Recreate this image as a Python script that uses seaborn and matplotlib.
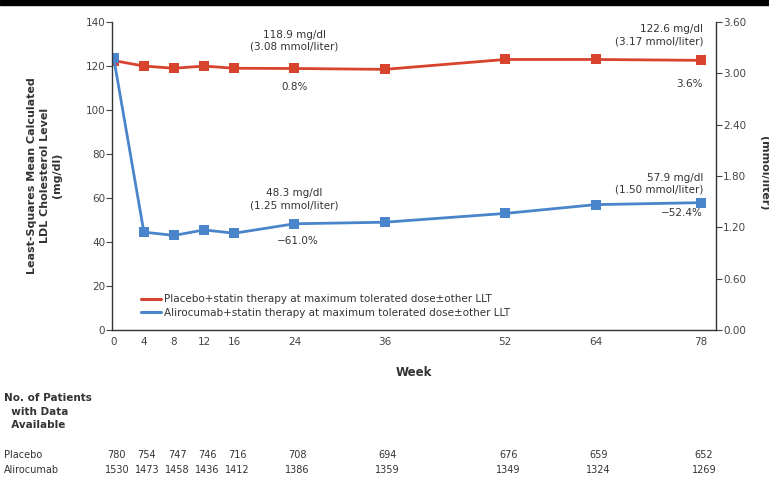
import numpy as np
import pandas as pd
import matplotlib
matplotlib.use("Agg")
import matplotlib.pyplot as plt
import seaborn as sns
from matplotlib.lines import Line2D
from matplotlib.patches import Rectangle

weeks = [0, 4, 8, 12, 16, 24, 36, 52, 64, 78]
placebo = [122.5, 120.0, 119.0, 120.0, 119.0, 118.9, 118.5, 123.0, 123.0, 122.6]
alirocumab = [123.5, 44.5, 43.0, 45.5, 44.0, 48.3, 49.0, 53.0, 57.0, 57.9]
n_placebo = [780, 754, 747, 746, 716, 708, 694, 676, 659, 652]
n_alirocumab = [1530, 1473, 1458, 1436, 1412, 1386, 1359, 1349, 1324, 1269]
left_ticks = [0, 20, 40, 60, 80, 100, 120, 140]
right_ticks = [0.00, 0.60, 1.20, 1.80, 2.40, 3.00, 3.60]
labels = ["Placebo+statin therapy at maximum tolerated dose\u00b1other LLT",
          "Alirocumab+statin therapy at maximum tolerated dose\u00b1other LLT"]

RED = "#d8432e"
BLUE = "#4a85cc"
TXT = "#333333"

df = pd.DataFrame({
    "week": weeks * 2,
    "ldl": placebo + alirocumab,
    "group": ["Placebo"] * len(weeks) + ["Alirocumab"] * len(weeks),
})

sns.set_style("white")
plt.rcParams["font.family"] = ["DejaVu Sans"]

fig = plt.figure(figsize=(7.69, 4.8), dpi=100)
ax = fig.add_axes([0.146, 0.3125, 0.785, 0.6415])

sns.lineplot(data=df, x="week", y="ldl", hue="group", style="group",
             hue_order=["Placebo", "Alirocumab"],
             palette={"Placebo": RED, "Alirocumab": BLUE},
             markers={"Placebo": "s", "Alirocumab": "s"}, dashes=False,
             markersize=7, markeredgewidth=0, linewidth=2, legend=False, ax=ax)

ax.set_xlim(-0.2, 80)
ax.set_ylim(0, 140)
ax.set_xticks(weeks)
ax.set_xticklabels([str(w) for w in weeks], fontsize=7.5, color=TXT)
ax.set_yticks(left_ticks)
ax.set_yticklabels([str(t) for t in left_ticks], fontsize=7.5, color="#666666")
ax.tick_params(axis="both", direction="out", length=4, width=0.8, colors="#444444", pad=1)
ax.set_xlabel("Week", fontsize=8.5, fontweight="bold", color=TXT, labelpad=14)
ax.set_ylabel("")
ax.spines["top"].set_visible(False)
ax.spines["right"].set_visible(False)
for s in ["left", "bottom"]:
    ax.spines[s].set_color("#333333")
    ax.spines[s].set_linewidth(1.0)

ax2 = ax.twinx()
ax2.set_ylim(0, 3.6)
ax2.set_yticks(right_ticks)
ax2.set_yticklabels([f"{t:.2f}" for t in right_ticks], fontsize=7.5, color="#666666")
ax2.tick_params(axis="y", direction="out", length=4, width=0.8, colors="#444444", pad=1)
for s in ["top", "left", "bottom"]:
    ax2.spines[s].set_visible(False)
ax2.spines["right"].set_color("#333333")
ax2.spines["right"].set_linewidth(1.0)
ax2.grid(False)
ax.grid(False)

# annotations
fs = 7.5
ax.text(24, 131.5, "118.9 mg/dl\n(3.08 mmol/liter)", ha="center", va="center",
        fontsize=fs, color=TXT, linespacing=1.3)
ax.text(24, 110.5, "0.8%", ha="center", va="center", fontsize=fs, color=TXT)
ax.text(78.3, 134, "122.6 mg/dl\n(3.17 mmol/liter)", ha="right", va="center",
        fontsize=fs, color=TXT, linespacing=1.3)
ax.text(78.3, 112, "3.6%", ha="right", va="center", fontsize=fs, color=TXT)
ax.text(24, 59.5, "48.3 mg/dl\n(1.25 mmol/liter)", ha="center", va="center",
        fontsize=fs, color=TXT, linespacing=1.3)
ax.text(24.5, 40.5, "\u221261.0%", ha="center", va="center", fontsize=fs, color=TXT)
ax.text(78.3, 66.5, "57.9 mg/dl\n(1.50 mmol/liter)", ha="right", va="center",
        fontsize=fs, color=TXT, linespacing=1.3)
ax.text(78.3, 53, "\u221252.4%", ha="right", va="center", fontsize=fs, color=TXT)

handles = [Line2D([], [], color=RED, lw=2.2), Line2D([], [], color=BLUE, lw=2.2)]
ax.legend(handles, labels, loc="lower left", bbox_to_anchor=(0.04, 0.025),
          frameon=False, fontsize=7.5, handlelength=2.0, handletextpad=0.2,
          labelspacing=0.35, labelcolor=TXT, borderaxespad=0)

# y labels
fig.text(0.058, 0.635, "Least-Squares Mean Calculated\nLDL Cholesterol Level\n(mg/dl)",
         rotation=90, ha="center", va="center", fontsize=8, fontweight="bold",
         color=TXT, linespacing=1.3)
fig.text(0.994, 0.64, "(mmol/liter)", rotation=270, ha="center", va="center",
         fontsize=8, fontweight="bold", color=TXT)

# patients table
fig.text(0.005, 1 - 393 / 480, "No. of Patients\n  with Data\n  Available",
         ha="left", va="top", fontsize=7.5, fontweight="bold", color=TXT,
         linespacing=1.45)
trans = matplotlib.transforms.blended_transform_factory(ax.transData, fig.transFigure)
fig.text(0.005, 0.052, "Placebo", ha="left", va="center", fontsize=7, color=TXT)
fig.text(0.005, 0.021, "Alirocumab", ha="left", va="center", fontsize=7, color=TXT)
for w, a, b in zip(weeks, n_placebo, n_alirocumab):
    ax.text(w + 0.4, 0.052, str(a), transform=trans, ha="center", va="center",
            fontsize=7, color=TXT)
    ax.text(w + 0.4, 0.021, str(b), transform=trans, ha="center", va="center",
            fontsize=7, color=TXT)

# black strip at top
fig.patches.append(Rectangle((0, 0.99), 1, 0.01, transform=fig.transFigure,
                             color="black", zorder=10))

fig.savefig("out.png", dpi=100)
